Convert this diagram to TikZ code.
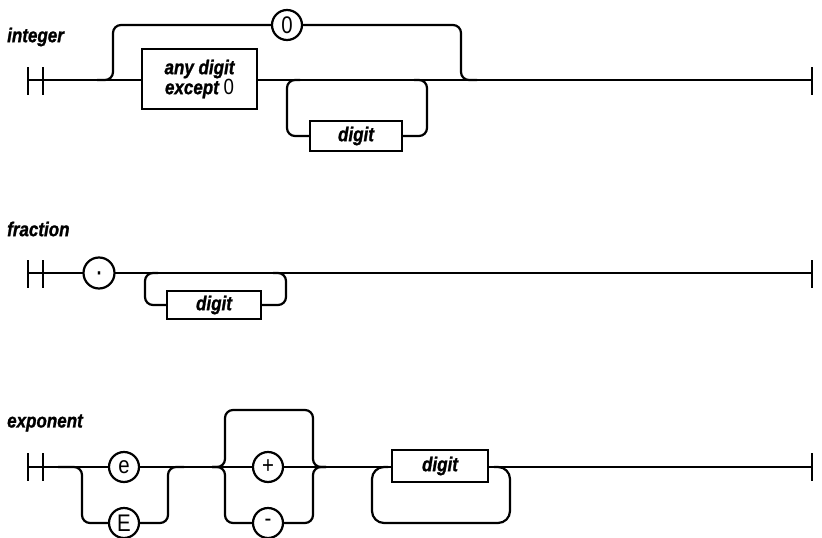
\documentclass[tikz,border=0pt]{standalone}
\usepackage{fontspec}
\setmainfont{Liberation Sans}[FakeStretch=0.85, BoldItalicFeatures={FakeBold=1.2}]
\usetikzlibrary{backgrounds}
\begin{document}
\begin{tikzpicture}[x=1pt,y=-1pt,
  rail/.style={line width=2.2pt, line cap=butt},
  railbend/.style={rail, rounded corners=8pt},
  term/.style={circle, draw, line width=2.2pt, fill=white, minimum size=30pt, inner sep=0pt, font=\fontsize{24}{24}\selectfont},
  nonterm/.style={rectangle, draw, line width=2.4pt, fill=white, inner sep=0pt, font=\fontsize{20}{20}\selectfont\bfseries\itshape},
  title/.style={anchor=west, inner sep=0pt, font=\fontsize{20}{20}\selectfont\bfseries\itshape}]
\useasboundingbox (0,0) rectangle (822,538);
% ---------- integer ----------
\node[title] (tint) at (7,37) {integer};
\coordinate (is) at (28,80); \coordinate (ie) at (812,80);
\node[nonterm, minimum width=115pt, minimum height=60pt, align=center] (anyd) at (199.5,79) {any digit\\except {\mdseries\upshape\fontsize{22}{20}\selectfont 0}};
\node[term] (zero) at (287,25) {0};
\node[nonterm, minimum width=92pt, minimum height=30pt] (idig) at (356,136) {digit};
% ---------- fraction ----------
\node[title] (tfra) at (7,229) {fraction};
\coordinate (fs) at (28,273); \coordinate (fe) at (812,273);
\node[term, minimum size=31pt, font=\fontsize{30}{30}\selectfont] (dot) at (99,273) {\smash{\raisebox{-8.5pt}{·}}};
\node[nonterm, minimum width=94pt, minimum height=28pt] (fdig) at (214,305) {digit};
% ---------- exponent ----------
\node[title] (texp) at (7,423) {exponent};
\coordinate (es) at (28,467); \coordinate (ee) at (812,467);
\node[term] (e) at (124,467) {e};
\node[term] (E) at (124,523) {E};
\node[term] (plus) at (268,467) {+};
\node[term] (minus) at (268,523) {-};
\node[nonterm, minimum width=96pt, minimum height=32pt] (edig) at (440,466) {digit};
\begin{scope}[on background layer]
  % integer
  \draw[rail] (is) -- (ie);
  \draw[rail] (28,67) -- (28,95); \draw[rail] (43,67) -- (43,95); \draw[rail] (812,67) -- (812,95);
  \draw[railbend] (97,80) -- (113,80) -- (113,25) -- (zero.west);
  \draw[railbend] (zero.east) -- (461,25) -- (461,80) -- (477,80);
  \draw[railbend] (idig.west) -- (287,136) -- (287,80) -- (300,80);
  \draw[railbend] (idig.east) -- (427,136) -- (427,80) -- (414,80);
  % fraction
  \draw[rail] (fs) -- (fe);
  \draw[rail] (28,260) -- (28,288); \draw[rail] (43,260) -- (43,288); \draw[rail] (812,260) -- (812,288);
  \draw[railbend] (fdig.west) -- (145,305) -- (145,273) -- (158,273);
  \draw[railbend] (fdig.east) -- (286,305) -- (286,273) -- (273,273);
  % exponent
  \draw[rail] (es) -- (ee);
  \draw[rail] (28,453) -- (28,481); \draw[rail] (43,453) -- (43,481); \draw[rail] (812,453) -- (812,481);
  \draw[railbend] (58,467) -- (82,467) -- (82,523) -- (E.west);
  \draw[railbend] (E.east) -- (168,523) -- (168,467) -- (184,467);
  \draw[railbend] (212,467) -- (225,467) -- (225,410) -- (313,410) -- (313,467) -- (326,467);
  \draw[railbend] (212,467) -- (225,467) -- (225,523) -- (minus.west);
  \draw[railbend] (minus.east) -- (313,523) -- (313,467) -- (326,467);
  \draw[rail, rounded corners=12pt] (388,467) -- (372,467) -- (372,523) -- (510,523) -- (510,467) -- (494,467);
\end{scope}
\end{tikzpicture}
\end{document}
